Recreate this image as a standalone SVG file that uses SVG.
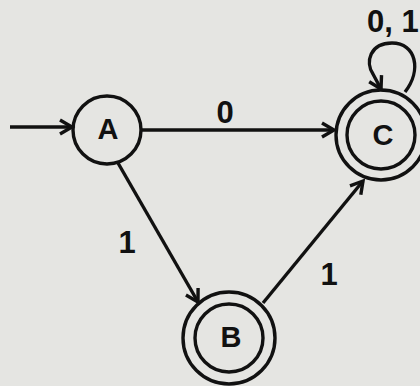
<svg xmlns="http://www.w3.org/2000/svg" width="420" height="386" viewBox="0 0 420 386">
<style>
.st{fill:none;stroke:#111;stroke-width:3.4}
.lb{font-family:"Liberation Sans",Arial,sans-serif;font-weight:bold;font-size:29px;fill:#111;text-anchor:middle}
.dg{font-family:"Liberation Sans",Arial,sans-serif;font-weight:bold;font-size:31px;fill:#111;text-anchor:middle}
.e{fill:none;stroke:#111;stroke-width:3.4;marker-end:url(#ah)}
</style>
<defs>
<marker id="ah" markerUnits="userSpaceOnUse" markerWidth="20" markerHeight="20" refX="14" refY="8" orient="auto" viewBox="0 0 20 16">
<path d="M2,1 L14,8 L2,15" fill="none" stroke="#111" stroke-width="3.4"/>
</marker>
</defs>
<rect width="420" height="386" fill="#e5e5e2"/>
<g id="edges">
<line class="e" x1="10" y1="127" x2="72" y2="127"/>
<line class="e" x1="141" y1="130" x2="334" y2="130"/>
<line class="e" x1="118" y1="163" x2="198" y2="302"/>
<line class="e" x1="263" y1="303" x2="363" y2="181"/>
<path class="e" d="M405,92 C422,70 416,43 392,43 C370,43 365,62 373,74 L381,89"/>
<text class="dg" x="225" y="123">0</text>
<text class="dg" x="127" y="253">1</text>
<text class="dg" x="329" y="285">1</text>
<text class="dg" x="367" y="32" style="text-anchor:start">0, 1</text>
</g>
<g id="A">
<circle class="st" cx="107" cy="130" r="34"/>
<text class="lb" x="108" y="139">A</text>
</g>
<g id="B">
<circle class="st" cx="229" cy="338" r="46"/>
<circle class="st" cx="229" cy="338" r="34"/>
<text class="lb" x="231" y="347">B</text>
</g>
<g id="C">
<circle class="st" cx="381" cy="135" r="45"/>
<circle class="st" cx="381" cy="135" r="34"/>
<text class="lb" x="383" y="145">C</text>
</g>
</svg>
